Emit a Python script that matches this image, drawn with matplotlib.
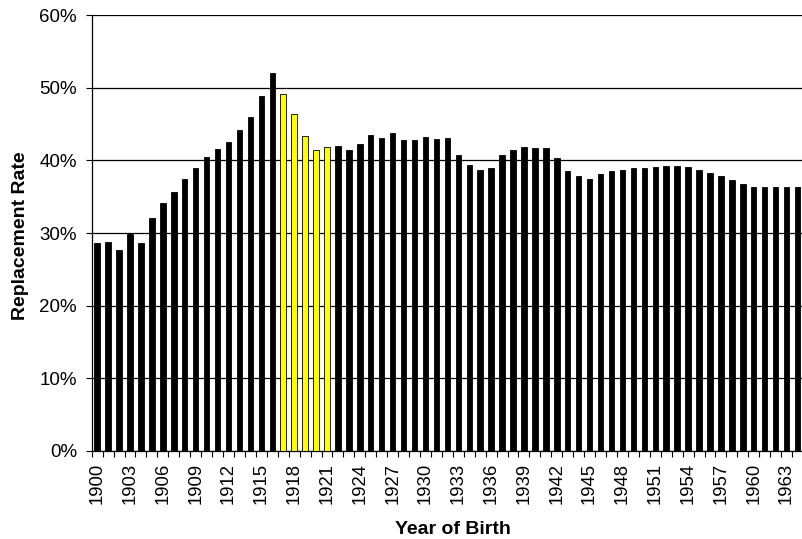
import matplotlib
matplotlib.use("Agg")
import matplotlib.pyplot as plt
from matplotlib.ticker import FixedLocator, PercentFormatter

years = list(range(1900, 1965))
rates = [
    28.6, 28.7, 27.6, 29.8, 28.6, 32.1, 34.1, 35.6, 37.4, 39.0,
    40.5, 41.6, 42.6, 44.2, 46.0, 48.9, 52.0, 49.1, 46.4, 43.4,
    41.5, 41.8, 42.0, 41.5, 42.2, 43.5, 43.1, 43.8, 42.8, 42.8,
    43.2, 42.9, 43.1, 40.8, 39.4, 38.7, 39.0, 40.8, 41.5, 41.8,
    41.7, 41.7, 40.3, 38.5, 37.9, 37.5, 38.2, 38.6, 38.7, 38.9,
    39.0, 39.1, 39.2, 39.2, 39.1, 38.7, 38.3, 37.8, 37.3, 36.8,
    36.4, 36.4, 36.4, 36.4, 36.4,
]
highlight_years = [1917, 1918, 1919, 1920, 1921]
label_step = 3
y_ticks = [0, 10, 20, 30, 40, 50, 60]

plt.rcParams['font.family'] = ['Liberation Sans', 'DejaVu Sans']

fig = plt.figure(figsize=(8.03, 5.39), dpi=100)
ax = fig.add_axes([0.1142, 0.1638, 0.8858, 0.8078])

x = list(range(len(years)))
colors = ['#FFFF00' if y in highlight_years else 'black' for y in years]
ax.bar(x, rates, width=0.5, color=colors, edgecolor='black', linewidth=0.6, zorder=3)

ax.set_xlim(-0.5, len(years) - 0.5)
ax.set_ylim(0, 60)
ax.yaxis.set_major_locator(FixedLocator(y_ticks))
ax.yaxis.set_major_formatter(PercentFormatter(decimals=0))
ax.grid(axis='y', color='black', linewidth=0.9, zorder=0)

label_idx = [i for i in x if (years[i] - years[0]) % label_step == 0]
ax.set_xticks(label_idx)
ax.set_xticklabels([str(years[i]) for i in label_idx], rotation=90)
ax.set_xticks([i - 0.5 for i in range(len(years) + 1)], minor=True)
ax.tick_params(axis='x', which='major', length=0, pad=9, labelsize=13.3)
ax.tick_params(axis='x', which='minor', length=4.5, width=0.8, direction='out')
ax.tick_params(axis='y', length=4.5, width=0.8, labelsize=13.5, pad=6)

for s in ['top', 'right']:
    ax.spines[s].set_visible(False)
ax.spines['left'].set_linewidth(0.9)
ax.spines['bottom'].set_linewidth(0.9)

ax.set_ylabel('Replacement Rate', fontweight='bold', fontsize=14)
ax.set_xlabel('Year of Birth', fontweight='bold', fontsize=14)
ax.xaxis.set_label_coords(0.5077, -0.162)
ax.yaxis.set_label_coords(-0.088, 0.494)

fig.savefig('out.png', dpi=100)
